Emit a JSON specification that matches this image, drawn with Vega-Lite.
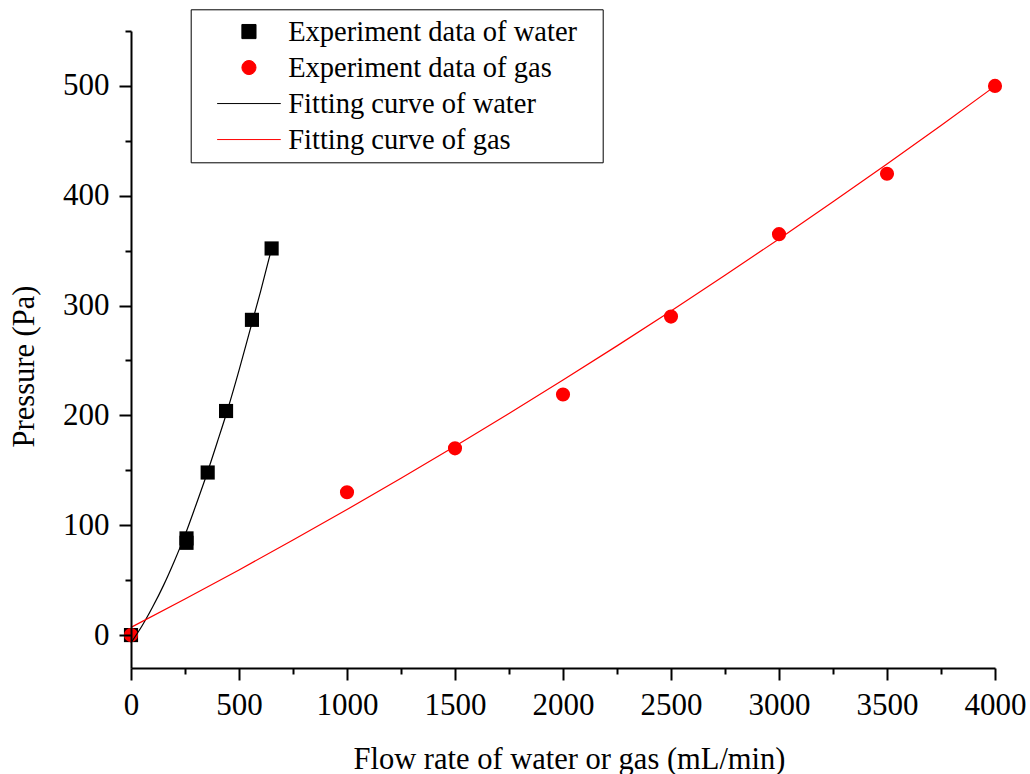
{
  "$schema": "https://vega.github.io/schema/vega-lite/v6.json",
  "width": 864,
  "height": 637,
  "autosize": {"type": "none"},
  "padding": {"left": 131, "top": 31, "right": 35, "bottom": 106},
  "background": "white",
  "config": {"view": {"stroke": null}, "font": "Liberation Serif"},
  "datasets": {
    "points": [
      {"series": "Experiment data of water", "flow": 0, "pressure": 0},
      {"series": "Experiment data of water", "flow": 257, "pressure": 88},
      {"series": "Experiment data of water", "flow": 257, "pressure": 84},
      {"series": "Experiment data of water", "flow": 355, "pressure": 148},
      {"series": "Experiment data of water", "flow": 440, "pressure": 204},
      {"series": "Experiment data of water", "flow": 560, "pressure": 287},
      {"series": "Experiment data of water", "flow": 651, "pressure": 352},
      {"series": "Experiment data of gas", "flow": 0, "pressure": 0},
      {"series": "Experiment data of gas", "flow": 1000, "pressure": 130},
      {"series": "Experiment data of gas", "flow": 1500, "pressure": 170},
      {"series": "Experiment data of gas", "flow": 2000, "pressure": 219},
      {"series": "Experiment data of gas", "flow": 2500, "pressure": 290},
      {"series": "Experiment data of gas", "flow": 3000, "pressure": 365},
      {"series": "Experiment data of gas", "flow": 3500, "pressure": 420},
      {"series": "Experiment data of gas", "flow": 4000, "pressure": 500}
    ],
    "fits": [
      {"series": "Fitting curve of water", "flow": 0, "pressure": -7},
      {"series": "Fitting curve of water", "flow": 50, "pressure": 8},
      {"series": "Fitting curve of water", "flow": 100, "pressure": 25.5},
      {"series": "Fitting curve of water", "flow": 150, "pressure": 45},
      {"series": "Fitting curve of water", "flow": 200, "pressure": 67},
      {"series": "Fitting curve of water", "flow": 250, "pressure": 91},
      {"series": "Fitting curve of water", "flow": 300, "pressure": 118},
      {"series": "Fitting curve of water", "flow": 350, "pressure": 146},
      {"series": "Fitting curve of water", "flow": 400, "pressure": 176},
      {"series": "Fitting curve of water", "flow": 450, "pressure": 207},
      {"series": "Fitting curve of water", "flow": 500, "pressure": 241},
      {"series": "Fitting curve of water", "flow": 550, "pressure": 277},
      {"series": "Fitting curve of water", "flow": 600, "pressure": 313},
      {"series": "Fitting curve of water", "flow": 651, "pressure": 352},
      {"series": "Fitting curve of gas", "flow": 0, "pressure": 7},
      {"series": "Fitting curve of gas", "flow": 250, "pressure": 32.8},
      {"series": "Fitting curve of gas", "flow": 500, "pressure": 59.3},
      {"series": "Fitting curve of gas", "flow": 750, "pressure": 86.5},
      {"series": "Fitting curve of gas", "flow": 1000, "pressure": 114.3},
      {"series": "Fitting curve of gas", "flow": 1250, "pressure": 142.8},
      {"series": "Fitting curve of gas", "flow": 1500, "pressure": 171.9},
      {"series": "Fitting curve of gas", "flow": 1750, "pressure": 201.7},
      {"series": "Fitting curve of gas", "flow": 2000, "pressure": 232.2},
      {"series": "Fitting curve of gas", "flow": 2250, "pressure": 263.3},
      {"series": "Fitting curve of gas", "flow": 2500, "pressure": 295.1},
      {"series": "Fitting curve of gas", "flow": 2750, "pressure": 327.6},
      {"series": "Fitting curve of gas", "flow": 3000, "pressure": 360.7},
      {"series": "Fitting curve of gas", "flow": 3250, "pressure": 394.5},
      {"series": "Fitting curve of gas", "flow": 3500, "pressure": 428.9},
      {"series": "Fitting curve of gas", "flow": 3750, "pressure": 464},
      {"series": "Fitting curve of gas", "flow": 4000, "pressure": 499.8}
    ]
  },
  "encoding": {
    "x": {
      "field": "flow",
      "type": "quantitative",
      "scale": {"domain": [0, 4000], "nice": false, "zero": false},
      "axis": {
        "title": "Flow rate of water or gas (mL/min)",
        "titleFont": "Liberation Serif",
        "titleFontSize": 30.5,
        "titleFontWeight": "normal",
        "titleColor": "black",
        "titleBaseline": "alphabetic",
        "titleAlign": "center",
        "titleX": 438,
        "titleY": 100,
        "values": [0, 250, 500, 750, 1000, 1250, 1500, 1750, 2000, 2250, 2500, 2750, 3000, 3250, 3500, 3750, 4000],
        "labelExpr": "datum.value % 500 === 0 ? format(datum.value, 'd') : ''",
        "labelFont": "Liberation Serif",
        "labelFontSize": 31,
        "labelColor": "black",
        "labelPadding": 10,
        "labelOverlap": false,
        "labelFlush": false,
        "domainColor": "black",
        "domainWidth": 2,
        "tickColor": "black",
        "tickWidth": 2,
        "tickSize": {"condition": {"test": "datum.value % 500 === 0", "value": 12}, "value": 6},
        "grid": false,
        "zindex": 1
      }
    },
    "y": {
      "field": "pressure",
      "type": "quantitative",
      "scale": {"domain": [-30, 550], "nice": false, "zero": false},
      "axis": {
        "title": "Pressure (Pa)",
        "titleFont": "Liberation Serif",
        "titleFontSize": 30.5,
        "titleFontWeight": "normal",
        "titleColor": "black",
        "titleAngle": -90,
        "titleBaseline": "alphabetic",
        "titleAlign": "center",
        "titleX": -98,
        "titleY": 335,
        "values": [0, 50, 100, 150, 200, 250, 300, 350, 400, 450, 500, 550],
        "labelExpr": "datum.value % 100 === 0 ? format(datum.value, 'd') : ''",
        "labelFont": "Liberation Serif",
        "labelFontSize": 31,
        "labelColor": "black",
        "labelPadding": 10,
        "labelOverlap": false,
        "labelFlush": false,
        "domainColor": "black",
        "domainWidth": 2,
        "tickColor": "black",
        "tickWidth": 2,
        "tickSize": {"condition": {"test": "datum.value % 100 === 0", "value": 12}, "value": 6},
        "grid": false,
        "zindex": 1
      }
    },
    "color": {
      "field": "series",
      "type": "nominal",
      "scale": {
        "domain": ["Experiment data of water", "Experiment data of gas", "Fitting curve of water", "Fitting curve of gas"],
        "range": ["#000000", "#ff0000", "#000000", "#ff0000"]
      },
      "legend": {
        "orient": "none",
        "legendX": 59.7,
        "legendY": -21.7,
        "title": " ",
        "titleOrient": "right",
        "titleFontSize": 28,
        "titlePadding": 18,
        "strokeColor": "black",
        "fillColor": "white",
        "padding": 8,
        "labelFont": "Liberation Serif",
        "labelFontSize": 28.5,
        "labelColor": "black",
        "labelLimit": 500,
        "symbolSize": 200,
        "symbolOffset": 36,
        "labelOffset": 25,
        "rowPadding": 7,
        "symbolStrokeWidth": 1,
        "encode": {"symbols": {"update": {"stroke": {"scale": "color", "field": "value"}}}}
      }
    }
  },
  "layer": [
    {
      "data": {"name": "points"},
      "mark": {"type": "point", "filled": true, "size": 200, "opacity": 1},
      "encoding": {
        "shape": {
          "field": "series",
          "type": "nominal",
          "scale": {
            "domain": ["Experiment data of water", "Experiment data of gas", "Fitting curve of water", "Fitting curve of gas"],
            "range": ["square", "circle", "M-4.5,0H4.5", "M-4.5,0H4.5"]
          }
        }
      }
    },
    {
      "data": {"name": "fits"},
      "mark": {"type": "line", "strokeWidth": 1.2, "interpolate": "monotone"},
      "encoding": {}
    }
  ]
}
